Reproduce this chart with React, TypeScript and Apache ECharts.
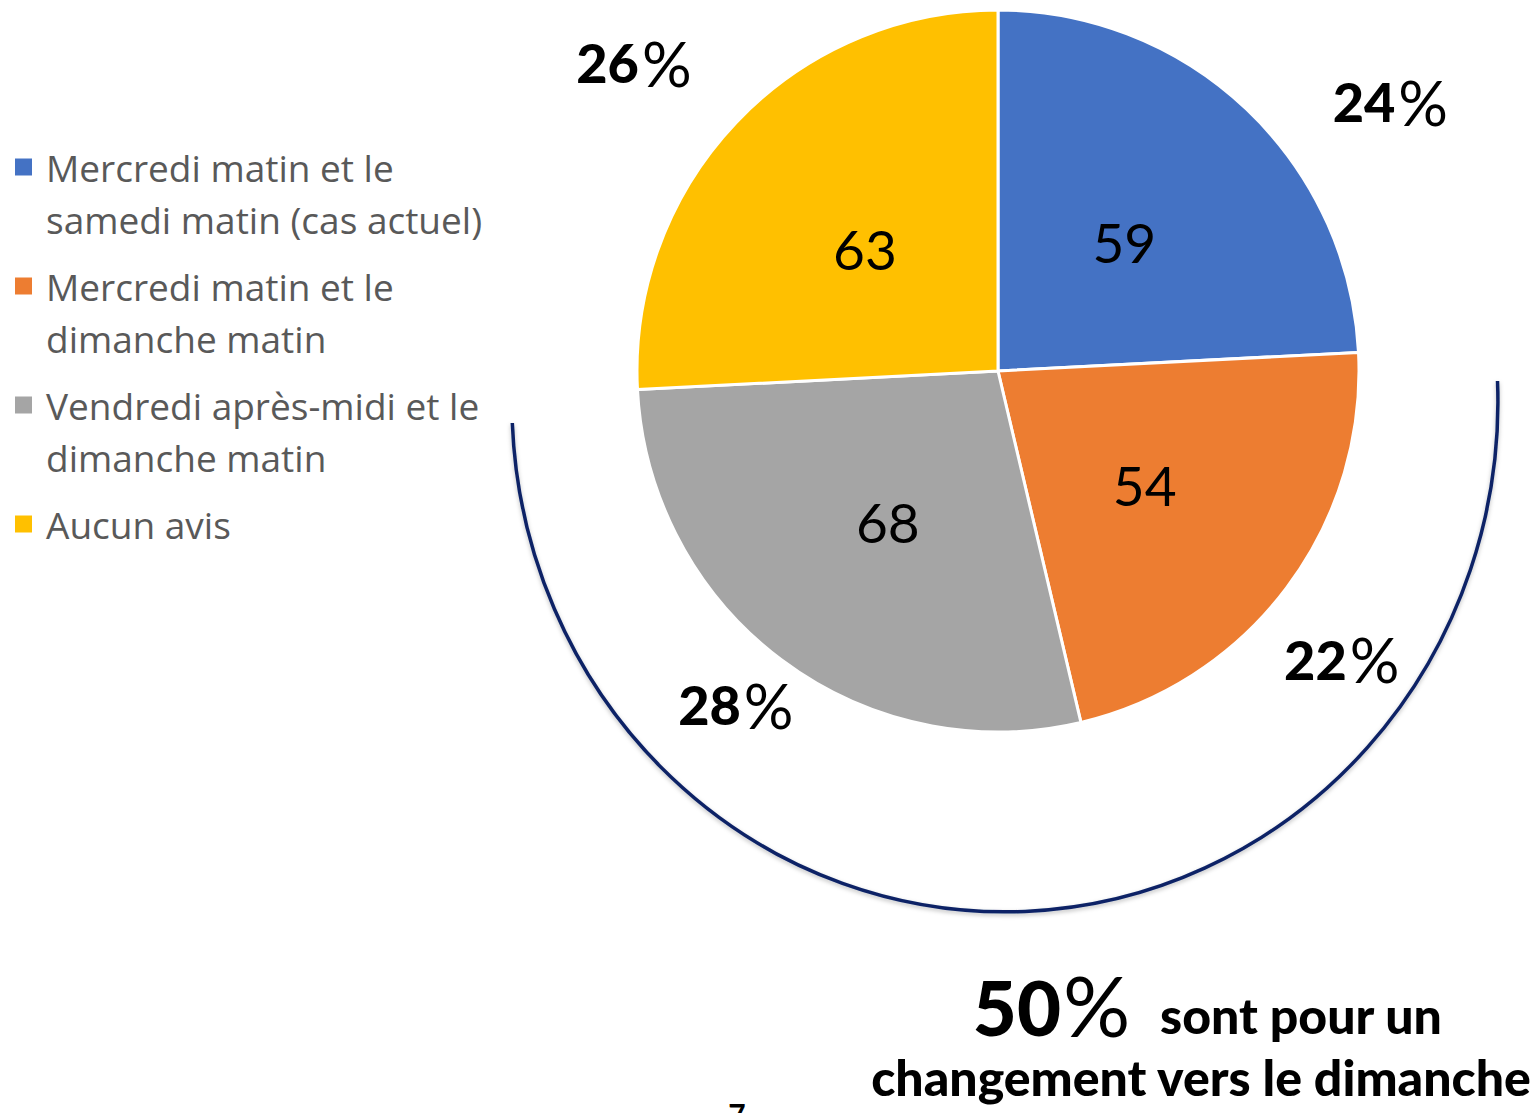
import React, { useEffect, useRef } from "react";
import * as echarts from "echarts";

const categories = [
  "Mercredi matin et le samedi matin (cas actuel)",
  "Mercredi matin et le dimanche matin",
  "Vendredi après-midi et le dimanche matin",
  "Aucun avis",
];
const legendLines = [
  ["Mercredi matin et le", "samedi matin (cas actuel)"],
  ["Mercredi matin et le", "dimanche matin"],
  ["Vendredi après-midi et le", "dimanche matin"],
  ["Aucun avis"],
];
const values = [59, 54, 68, 63];
const colors = ["#4472C4", "#ED7D31", "#A5A5A5", "#FFC000"];
// label offsets (layout) for the outer percentage labels, relative to slice mid-radius
const pctLabelOffsets = [
  [266, -136],
  [197, 178],
  [-152, 187],
  [-231, -182],
];
const summaryIdx = [1, 2]; // slices moving to Sunday
const summaryText1 = "sont pour un";
const summaryText2 = "changement vers le dimanche";
const pageNumber = "7";

const ARC_D = "M 512.3 423 A 493 510 0 1 0 1497.5 381";
echarts.graphic.registerShape("bracketArc", echarts.graphic.extendPath(ARC_D, {}));

export default function App() {
  const ref = useRef<HTMLDivElement>(null);
  useEffect(() => {
    if (!ref.current) return;
    const chart = echarts.init(ref.current, null, { renderer: "svg" });
    const total = values.reduce((a, b) => a + b, 0);
    const summaryNum = String(
      Math.round((summaryIdx.reduce((a, i) => a + values[i], 0) / total) * 100)
    );
    const center = [998, 371];
    const radius = 361;
    const font = "Lato";
    chart.setOption({
      animation: false,
      color: colors,
      legend: {
        orient: "vertical",
        left: 13,
        top: 89,
        padding: 0,
        itemWidth: 19,
        itemHeight: 19,
        itemGap: -37,
        icon: "rect",
        selectedMode: false,
        data: categories.map((n, i) => ({ name: n, itemStyle: { color: colors[i] } })),
        formatter: (name: string) => {
          const lines = legendLines[categories.indexOf(name)];
          const all = ["", ...lines];
          if (lines.length < 2) all.push("");
          return all.join("\n");
        },
        textStyle: {
          fontFamily: "Open Sans",
          fontSize: 37,
          color: "#595959",
          lineHeight: 52,
          padding: [0, 0, 0, 8],
        },
      },
      series: [
        {
          type: "pie",
          center,
          radius,
          startAngle: 90,
          clockwise: true,
          silent: true,
          data: categories.map((n, i) => ({ name: n, value: values[i] })),
          itemStyle: { borderColor: "#ffffff", borderWidth: 3 },
          label: {
            show: true,
            position: "inside",
            formatter: "{c}",
            fontFamily: font,
            fontSize: 55,
            color: "#000000",
            offset: [0, 4],
          },
          labelLine: { show: false },
          emphasis: { disabled: true },
        },
        {
          type: "pie",
          center,
          radius,
          startAngle: 90,
          clockwise: true,
          silent: true,
          percentPrecision: 0,
          data: categories.map((n, i) => ({
            name: n,
            value: values[i],
            label: { offset: pctLabelOffsets[i] },
          })),
          itemStyle: { color: "rgba(0,0,0,0)", borderWidth: 0 },
          label: {
            show: true,
            position: "inside",
            formatter: "{n|{d}}{p|%}",
            color: "#000000",
            rich: {
              n: { fontFamily: font, fontWeight: 900, fontSize: 54, color: "#000" },
              p: { fontFamily: font, fontWeight: 400, fontSize: 62, color: "#000", padding: [0, 0, 0, 3] },
            },
          },
          labelLine: { show: false },
          emphasis: { disabled: true },
        },
      ],
      graphic: [
        {
          type: "bracketArc",
          x: 0,
          y: 0,
          silent: true,
          style: {
            fill: "none",
            stroke: "#0B2366",
            lineWidth: 3.5,
            shadowBlur: 4,
            shadowColor: "rgba(0,0,0,0.25)",
            shadowOffsetY: 2,
          },
        },
        {
          type: "text",
          x: 1061,
          y: 1006,
          style: {
            text: summaryNum,
            font: `900 76px ${font}`,
            fill: "#000",
            align: "right",
            verticalAlign: "middle",
          },
        },
        {
          type: "text",
          x: 1063,
          y: 1004,
          style: {
            text: "%",
            font: `400 84px ${font}`,
            fill: "#000",
            align: "left",
            verticalAlign: "middle",
          },
        },
        {
          type: "text",
          x: 1160,
          y: 1015,
          style: {
            text: summaryText1,
            font: `900 50px ${font}`,
            fill: "#000",
            align: "left",
            verticalAlign: "middle",
          },
        },
        {
          type: "text",
          x: 1201,
          y: 1077,
          style: {
            text: summaryText2,
            font: `900 50px ${font}`,
            fill: "#000",
            align: "center",
            verticalAlign: "middle",
          },
        },
        {
          type: "text",
          x: 737,
          y: 1099,
          style: {
            text: pageNumber,
            font: `bold 30px ${font}`,
            fill: "#000",
            align: "center",
            verticalAlign: "top",
          },
        },
      ],
    });
    return () => chart.dispose();
  }, []);
  return (
    <div
      ref={ref}
      style={{ position: "absolute", left: 0, top: 0, width: 1535, height: 1113, background: "#fff" }}
    />
  );
}
